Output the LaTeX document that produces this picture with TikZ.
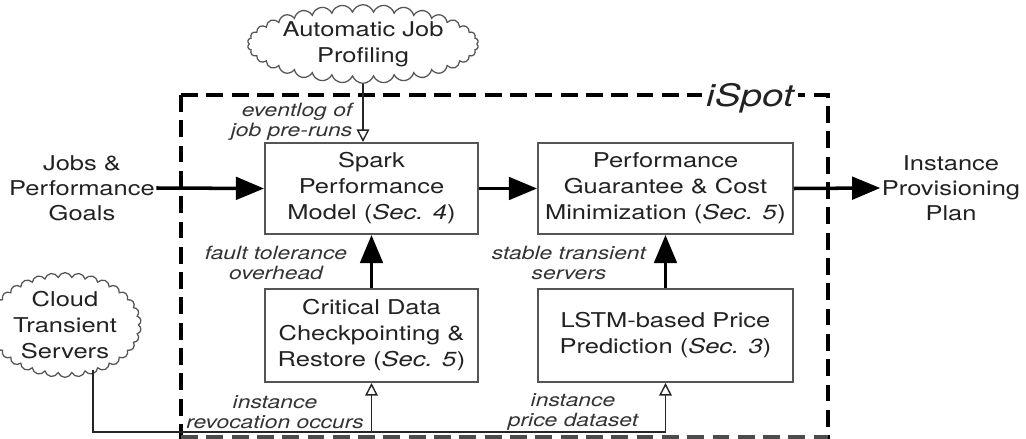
\documentclass[tikz,border=0pt]{standalone}
\usepackage{fontspec}
\setmainfont{TeX Gyre Heros}[FakeStretch=1.25]
\usetikzlibrary{arrows.meta,shapes.symbols,calc}
\def\pxu{0.025cm}
\definecolor{txt}{HTML}{222222}
\definecolor{lbl}{HTML}{333333}
\definecolor{bord}{HTML}{555555}
\tikzset{
  stepbox/.style={draw=bord, line width=1.4pt, fill=white, inner sep=0pt, align=center,
    text=txt, font=\fontsize{14.5pt}{18.5pt}\selectfont},
  cloudbox/.style={cloud, cloud puffs=34, cloud puff arc=140, cloud ignores aspect,
    draw=bord, line width=0.9pt, fill=white, inner sep=0pt, align=center,
    text=txt, font=\fontsize{14.5pt}{18.5pt}\selectfont},
  plaintext/.style={inner sep=1pt, align=center, text=txt, font=\fontsize{14.5pt}{17.8pt}\selectfont},
  lbltext/.style={inner sep=1pt, align=center, text=lbl, font=\fontsize{13pt}{14.5pt}\selectfont\itshape},
  bigarrow/.style={line width=2.5pt, -{Triangle[length=20pt,width=16pt]}},
  feed/.style={line width=1pt, draw=black!85},
  feedarrow/.style={feed, -{Triangle[open,length=9pt,width=9pt,line width=1pt]}},
  ispotbox/.style={line width=2.2pt, dash pattern=on 12pt off 6pt},
}
\begin{document}
\begin{tikzpicture}[x=\pxu, y=-\pxu]
\useasboundingbox (0,0) rectangle (1026,439);
% iSpot dashed frame
\draw[ispotbox] (181,95) -- (828,95) -- (828,445) (181,95) -- (181,445);
\draw[ispotbox, draw=black!70] (181,437) -- (828,437);
\node[inner sep=3pt, fill=white, text=txt, font=\fontsize{22pt}{24pt}\selectfont\itshape] (ispot) at (750,98) {iSpot};

\coordinate (busy) at (0,432);

\node[cloudbox, minimum width={228*\pxu}, minimum height={74*\pxu}] (ajp) at (363,44) {Automatic Job\\Profiling};
\node[cloudbox, minimum width={108*\pxu}, minimum height={102*\pxu}] (cts) at (65,325) {Cloud\\Transient\\Servers};

\node[stepbox, minimum width={213*\pxu}, minimum height={91*\pxu}] (spark) at (371.5,188.5) {Spark\\Performance\\Model (\textit{Sec. 4})};
\node[stepbox, minimum width={255*\pxu}, minimum height={91*\pxu}] (pg) at (665.5,188.5) {Performance\\Guarantee \& Cost\\Minimization (\textit{Sec. 5})};
\node[stepbox, minimum width={213*\pxu}, minimum height={93*\pxu}] (crit) at (371.5,335.5) {Critical Data\\Checkpointing \&\\Restore (\textit{Sec. 5})};
\node[stepbox, minimum width={255*\pxu}, minimum height={93*\pxu}] (lstm) at (665.5,335.5) {LSTM-based Price\\Prediction (\textit{Sec. 3})};

\node[plaintext] (jobs) at (82,188) {Jobs \&\\Performance\\Goals};
\node[plaintext] (inst) at (951,188) {Instance\\Provisioning\\Plan};

% labels
\node[lbltext, align=right, anchor=east] (lev) at (354,122) {eventlog of\\job pre-runs};
\node[lbltext] (lft) at (276,263) {fault tolerance\\overhead};
\node[lbltext] (lst) at (569,263) {stable transient\\servers};
\node[lbltext] (lrv) at (275,412) {instance\\revocation occurs};
\node[lbltext] (lpr) at (573,412) {instance\\price dataset};

% thick arrows
\draw[bigarrow] (jobs.east) -- (spark.west);
\draw[bigarrow] (spark.east) -- (pg.west);
\draw[bigarrow] (pg.east) -- (inst.west);
\draw[bigarrow] (crit.north) -- (spark.south);
\draw[bigarrow] (lstm.north) -- (pg.south);

% thin feeds
\draw[feedarrow] (ajp.south) -- (ajp.south |- spark.north);
\coordinate (ctsout) at ($(cts.center)+(28,45)$);
\draw[feedarrow] (ctsout) |- (lstm.south |- busy) -- (lstm.south);
\draw[feedarrow] (crit.south |- busy) -- (crit.south);
\end{tikzpicture}
\end{document}
